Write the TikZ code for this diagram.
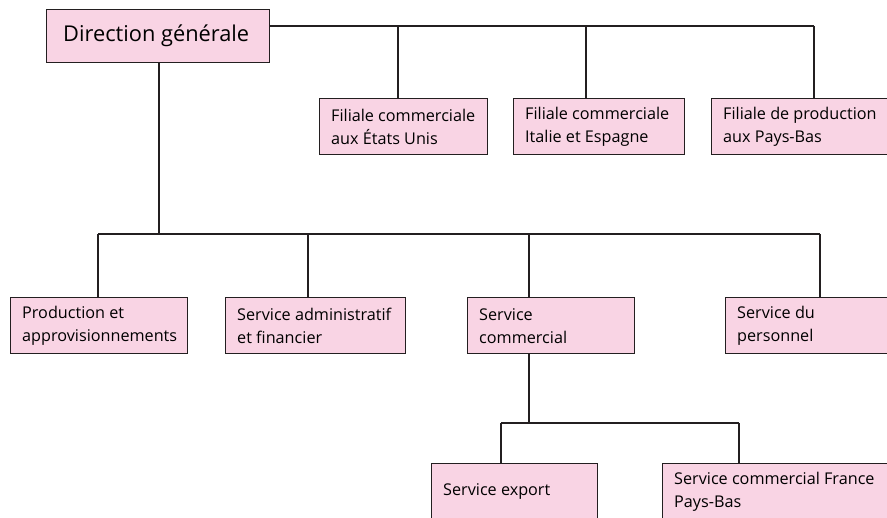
\documentclass[tikz,border=0pt]{standalone}
\usepackage{fontspec}
\setmainfont{Open Sans}
\usetikzlibrary{calc}
\definecolor{boxpink}{RGB}{249,212,228}
\definecolor{edge}{RGB}{35,31,32}
\tikzset{
  unit/.style={draw=edge, line width=1.3pt, fill=boxpink, anchor=north west,
    inner sep=0pt, minimum height=#1},
  unit/.default=56pt,
  caption/.style={anchor=west, inner sep=0pt, align=left,
    font=\fontsize{16.2}{23}\selectfont},
  link/.style={draw=edge, line width=1.3pt}
}
\newcommand{\orgbox}[5]{% name, x, y, width, text
  \node[unit, minimum width=#4pt] (#1) at (#2,#3) {};
  \node[caption] (#1-t) at ([xshift=12pt]#1.west) {#5};}
\begin{document}
\begin{tikzpicture}[x=1pt,y=-1pt]
  \useasboundingbox (0,0) rectangle (887,518);
  \clip (0,0) rectangle (887,518);
  % head office
  \node[unit=53pt, minimum width=223pt] (dg) at (46,9) {};
  \node[caption, font=\fontsize{21.8}{26}\selectfont] (dg-t)
    at ([xshift=17pt]dg.west) {Direction générale};
  % subsidiaries
  \orgbox{f1}{319}{98}{168}{Filiale commerciale\\aux États Unis}
  \orgbox{f2}{513}{98}{171}{Filiale commerciale\\Italie et Espagne}
  \orgbox{f3}{711}{98}{200}{Filiale de production\\aux Pays-Bas}
  % departments
  \orgbox{pa}{10}{297}{177}{Production et\\approvisionnements}
  \orgbox{saf}{225}{297}{180}{Service administratif\\et financier}
  \orgbox{sc}{467}{297}{167}{Service\\commercial}
  \orgbox{sp}{725}{297}{200}{Service du\\personnel}
  % sales sub-services
  \orgbox{se}{431}{463}{166}{Service export}
  \orgbox{sf}{662}{463}{250}{Service commercial France\\Pays-Bas}

  % bus to the subsidiaries
  \coordinate (topbus) at (dg.north east |- 0,26);
  \coordinate (topend) at (814,26);
  \draw[link] (topbus) -- (topend);
  \draw[link] (398,26) -- (398,26 |- f1.north);
  \draw[link] (586,26) -- (586,26 |- f2.north);
  \draw[link] (topend) -- (topend |- f3.north);

  % bus to the departments
  \coordinate (dgdrop) at (159,234);
  \draw[link] (dgdrop |- dg.south) -- (dgdrop);
  \coordinate (midbus) at (98,234);
  \coordinate (midend) at (820,234);
  \draw[link] (midbus) -- (midend);
  \draw[link] (midbus) -- (midbus |- pa.north);
  \draw[link] (308,234) -- (308,234 |- saf.north);
  \draw[link] (529,234) -- (529,234 |- sc.north);
  \draw[link] (midend) -- (midend |- sp.north);

  % bus to the sales sub-services
  \coordinate (lowbus) at (501,423);
  \coordinate (lowend) at (739,423);
  \draw[link] (529,423 |- sc.south) -- (529,423);
  \draw[link] (lowbus) -- (lowend);
  \draw[link] (lowbus) -- (lowbus |- se.north);
  \draw[link] (lowend) -- (lowend |- sf.north);
\end{tikzpicture}
\end{document}
